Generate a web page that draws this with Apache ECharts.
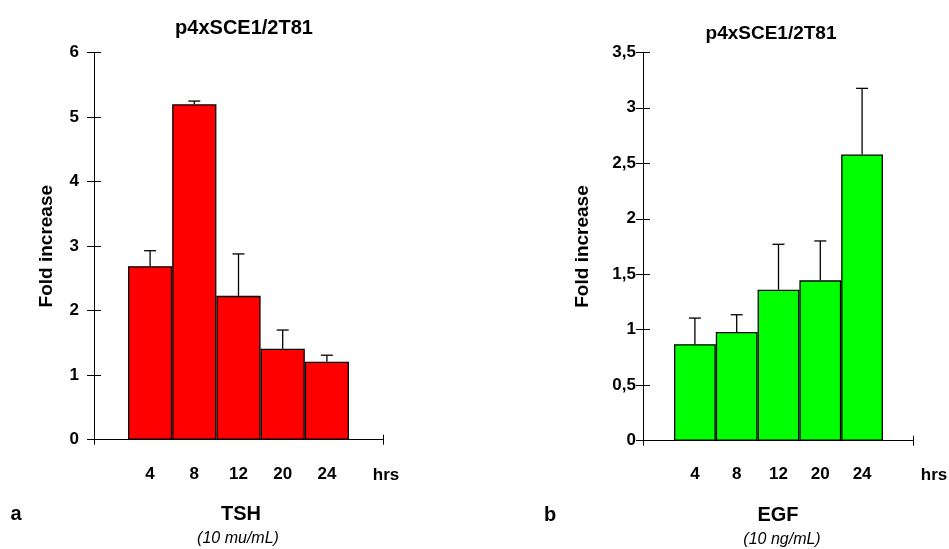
<!DOCTYPE html>
<html><head><meta charset="utf-8">
<script src="https://cdn.jsdelivr.net/npm/echarts@6/dist/echarts.min.js"></script>
<style>html,body{margin:0;padding:0;background:#fff}#c{width:949px;height:549px}</style>
</head><body><div id="c"></div>
<script>
const categories = ['4', '8', '12', '20', '24'];
const tshValues = [2.69, 5.20, 2.23, 1.41, 1.21];
const tshErrTop = [2.93, 5.25, 2.88, 1.70, 1.31];
const egfValues = [0.87, 0.98, 1.36, 1.445, 2.58];
const egfErrTop = [1.105, 1.135, 1.77, 1.80, 3.175];
const titleText = 'p4xSCE1/2T81';
const yName = 'Fold increase';
const xUnit = 'hrs';

const FONT = '"Liberation Sans", Arial, sans-serif';
const chart = echarts.init(document.getElementById('c'));

function errSeries(xi, yi, vals, tops) {
  return {
    type: 'custom', xAxisIndex: xi, yAxisIndex: yi, z: 5,
    data: vals.map((v, i) => [i, v, tops[i]]),
    renderItem: function (params, api) {
      const b = api.coord([api.value(0), api.value(1)]);
      const t = api.coord([api.value(0), api.value(2)]);
      const st = { stroke: '#000', lineWidth: 1.3 };
      return { type: 'group', children: [
        { type: 'line', shape: { x1: b[0], y1: b[1], x2: t[0], y2: t[1] }, style: st },
        { type: 'line', shape: { x1: t[0] - 6, y1: t[1], x2: t[0] + 6, y2: t[1] }, style: st }
      ]};
    }
  };
}

const axLine = { show: true, lineStyle: { color: '#000', width: 1 } };
const lblStyle = { color: '#000', fontWeight: 'bold', fontSize: 17, fontFamily: FONT };

function yPair(gi, max, interval, margin, gap, fmt) {
  return [
    { gridIndex: gi, type: 'value', position: 'left', min: 0, max: max, interval: interval,
      axisLine: axLine, axisTick: { show: true, length: 7, lineStyle: { color: '#000' } },
      splitLine: { show: false },
      axisLabel: Object.assign({ margin: margin, formatter: fmt }, lblStyle),
      name: yName, nameLocation: 'middle', nameGap: gap, nameRotate: 90,
      nameTextStyle: { color: '#000', fontWeight: 'bold', fontSize: 19, fontFamily: FONT } },
    { gridIndex: gi, type: 'value', position: 'left', offset: 0, min: 0, max: max, interval: interval,
      axisLine: axLine, axisTick: { show: true, inside: true, length: 7, lineStyle: { color: '#000' } },
      axisLabel: { show: false }, splitLine: { show: false } }
  ];
}
function xPair(gi) {
  return [
    { gridIndex: gi, type: 'value', position: 'bottom', min: 0, max: 1, interval: 1, axisLine: axLine,
      axisTick: { show: true, length: 5, lineStyle: { color: '#000' } },
      axisLabel: { show: false }, splitLine: { show: false } },
    { gridIndex: gi, type: 'value', position: 'bottom', offset: 0, min: 0, max: 1, interval: 1, axisLine: axLine,
      axisTick: { show: true, inside: true, length: 5, lineStyle: { color: '#000' } },
      axisLabel: { show: false }, splitLine: { show: false } }
  ];
}
const fmtComma = v => String(v).replace('.', ',');

function txt(text, x, y, font) {
  return { type: 'text', style: { text: text, x: x, y: y, textAlign: 'center', textVerticalAlign: 'middle', font: font, fill: '#000' } };
}

const option = {
  animation: false,
  backgroundColor: '#fff',
  grid: [
    { left: 94, top: 52.7, width: 289, height: 387 },
    { left: 128, top: 52.7, width: 221, height: 387 },
    { left: 643, top: 52.3, width: 270, height: 388.4 },
    { left: 674, top: 52.3, width: 209, height: 388.4 }
  ],
  xAxis: [
    ...xPair(0),
    { gridIndex: 1, type: 'category', data: categories, axisLine: { show: false }, axisTick: { show: false },
      axisLabel: Object.assign({ margin: 26 }, lblStyle) },
    ...xPair(2),
    { gridIndex: 3, type: 'category', data: categories, axisLine: { show: false }, axisTick: { show: false },
      axisLabel: Object.assign({ margin: 25 }, lblStyle) }
  ],
  yAxis: [
    ...yPair(0, 6, 1, 15, 38, v => String(v)),
    { gridIndex: 1, type: 'value', min: 0, max: 6, show: false },
    ...yPair(2, 3.5, 0.5, 7, 51, fmtComma),
    { gridIndex: 3, type: 'value', min: 0, max: 3.5, show: false }
  ],
  series: [
    { type: 'bar', xAxisIndex: 2, yAxisIndex: 2, data: tshValues, barCategoryGap: '0%',
      itemStyle: { color: '#ff0000', borderColor: '#000', borderWidth: 1.3 } },
    errSeries(2, 2, tshValues, tshErrTop),
    { type: 'bar', xAxisIndex: 5, yAxisIndex: 5, data: egfValues, barCategoryGap: '0%',
      itemStyle: { color: '#00ff00', borderColor: '#000', borderWidth: 1.3 } },
    errSeries(5, 5, egfValues, egfErrTop),
    { type: 'line', xAxisIndex: 1, yAxisIndex: 1, data: [], silent: true },
    { type: 'line', xAxisIndex: 4, yAxisIndex: 4, data: [], silent: true }
  ],
  graphic: [
    txt(titleText, 244, 28, 'bold 20px ' + FONT),
    txt(titleText, 771, 34, 'bold 19px ' + FONT),
    txt(xUnit, 386, 475, 'bold 17px ' + FONT),
    txt(xUnit, 934, 475, 'bold 17px ' + FONT),
    txt('a', 16, 514, 'bold 20px ' + FONT),
    txt('TSH', 241, 514, 'bold 20px ' + FONT),
    txt('(10 mu/mL)', 238, 539, 'italic 16px ' + FONT),
    txt('b', 550, 515, 'bold 20px ' + FONT),
    txt('EGF', 778, 515, 'bold 20px ' + FONT),
    txt('(10 ng/mL)', 782, 540, 'italic 16px ' + FONT)
  ]
};
chart.setOption(option);
</script>
</body></html>
